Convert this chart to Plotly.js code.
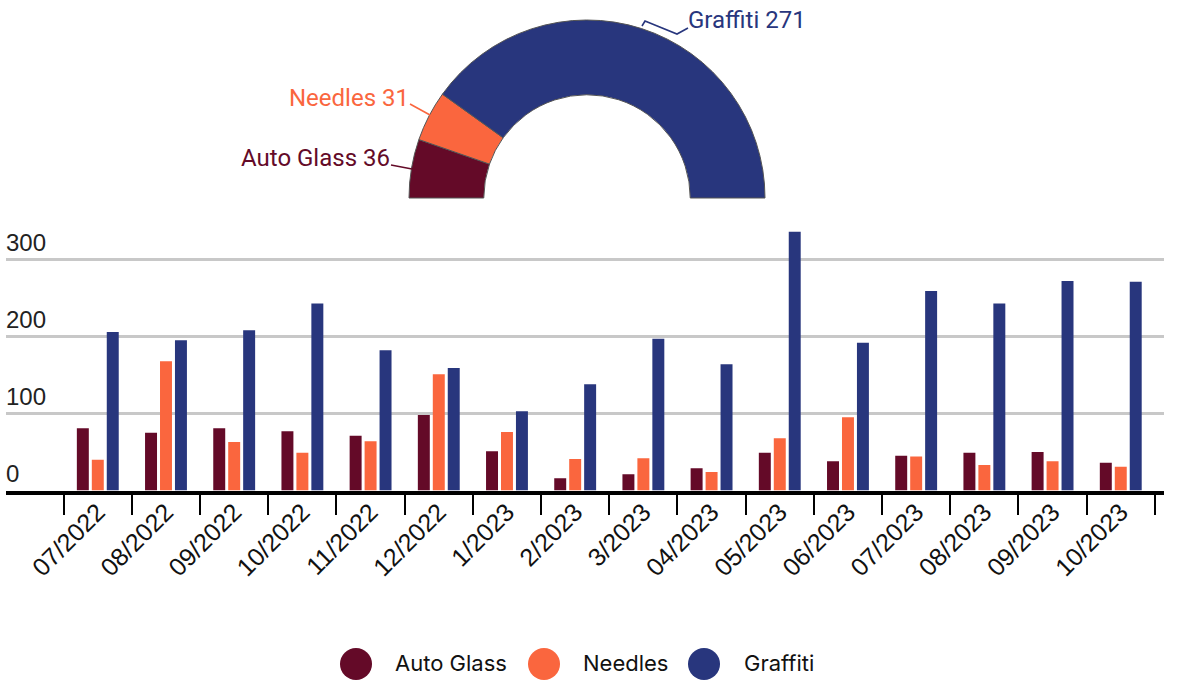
<!DOCTYPE html>
<html><head><meta charset="utf-8">
<script src="https://cdn.plot.ly/plotly-3.0.1.min.js"></script>
<style>html,body{margin:0;padding:0;background:#fff}#chart{width:1177px;height:680px}</style>
</head><body><div id="chart"></div>
<script>
const months = ['07/2022','08/2022','09/2022','10/2022','11/2022','12/2022','1/2023','2/2023','3/2023','04/2023','05/2023','06/2023','07/2023','08/2023','09/2023','10/2023'];
const autoGlass = [81,75,81,77,71,98,51,16,21,29,49,38,45,49,50,36];
const needles   = [40,168,63,49,64,151,76,41,42,24,68,95,44,33,38,31];
const graffiti  = [206,195,208,243,182,159,103,138,197,164,336,192,259,243,272,271];
const seriesNames  = ['Auto Glass','Needles','Graffiti'];
const seriesColors = ['#640a28','#fa663e','#28367d'];
const yTickVals = [0,100,200,300];

const W = 1177, H = 680;
const px = x => x / W, py = y => 1 - y / H;
const seriesValues = [autoGlass, needles, graffiti];

const traces = seriesValues.map((vals, i) => ({
  type: 'bar', x: months, y: vals, name: seriesNames[i],
  marker: {color: seriesColors[i]}, showlegend: false, hoverinfo: 'skip'
}));

// semi-donut of the latest month
const lastVals = seriesValues.map(v => v[v.length - 1]);
const total = lastVals.reduce((a, b) => a + b, 0);
traces.push({
  type: 'pie', sort: false, direction: 'clockwise', rotation: -90, hole: 0.58,
  values: lastVals.concat([total]), labels: seriesNames.concat(['']),
  domain: {x: [px(409), px(765)], y: [py(376), py(20)]},
  marker: {colors: seriesColors.concat(['rgba(0,0,0,0)']), line: {color: '#555', width: [1, 1, 1, 0]}},
  textinfo: 'none', hoverinfo: 'skip', showlegend: false
});

// donut labels and their connector lines
const pieLabelPos = [
  {x: 392, y: 158, anchor: 'right', line: [[391,165],[412,169]]},
  {x: 411, y: 98,  anchor: 'right', line: [[410,104],[430,115]]},
  {x: 686, y: 20,  anchor: 'left',  line: [[642,26],[645,21],[677,34],[688,28]]}
];
const annotations = [];
const shapes = [];
seriesNames.forEach((n, i) => {
  const p = pieLabelPos[i];
  annotations.push({xref: 'paper', yref: 'paper', x: px(p.x), y: py(p.y),
    xanchor: p.anchor, yanchor: 'middle', showarrow: false,
    text: n + ' ' + lastVals[i],
    font: {family: 'Roboto, sans-serif', size: 24, color: seriesColors[i]}});
  shapes.push({type: 'path', xref: 'paper', yref: 'paper',
    path: p.line.map((q, k) => (k ? 'L' : 'M') + px(q[0]) + ',' + py(q[1])).join(' '),
    line: {color: seriesColors[i], width: 1.6}});
});

// custom legend with large round symbols
const legendPos = [{c: 356, t: 393}, {c: 544, t: 581}, {c: 704, t: 742}];
seriesNames.forEach((n, i) => {
  shapes.push({type: 'circle', xref: 'paper', yref: 'paper',
    x0: px(legendPos[i].c - 16), x1: px(legendPos[i].c + 16),
    y0: py(680), y1: py(648), fillcolor: seriesColors[i], line: {width: 0}});
  annotations.push({xref: 'paper', yref: 'paper', x: px(legendPos[i].t), y: py(663),
    xanchor: 'left', yanchor: 'middle', showarrow: false, text: n,
    font: {family: 'Inter, sans-serif', size: 22, color: '#111'}});
});

const layout = {
  width: W, height: H, margin: {l: 0, r: 0, t: 0, b: 0},
  paper_bgcolor: '#fff', plot_bgcolor: '#fff',
  barmode: 'group', bargap: 0.342, bargroupgap: 0.2, showlegend: false,
  xaxis: {
    domain: [px(6), px(1164)], range: [-1.346, 15.634], type: 'category',
    tickson: 'boundaries', ticks: 'outside', ticklen: 20, tickwidth: 2, tickcolor: '#000',
    showline: true, linewidth: 4, linecolor: '#000', showgrid: false, zeroline: false,
    tickangle: -45, ticklabelstandoff: -7,
    tickfont: {family: 'Liberation Sans, Arial, sans-serif', size: 25, color: '#111'}
  },
  yaxis: {
    domain: [py(490.5), py(221)], range: [0, 350], tickvals: yTickVals,
    showgrid: true, gridcolor: '#c8c8c8', gridwidth: 2.5, zeroline: false, showline: false,
    ticks: '', ticklabelposition: 'inside top', ticklabelstandoff: -3,
    tickfont: {family: 'Liberation Sans, Arial, sans-serif', size: 24, color: '#222'}
  },
  shapes: shapes, annotations: annotations
};

Plotly.newPlot('chart', traces, layout, {staticPlot: true, displayModeBar: false});
</script></body></html>
